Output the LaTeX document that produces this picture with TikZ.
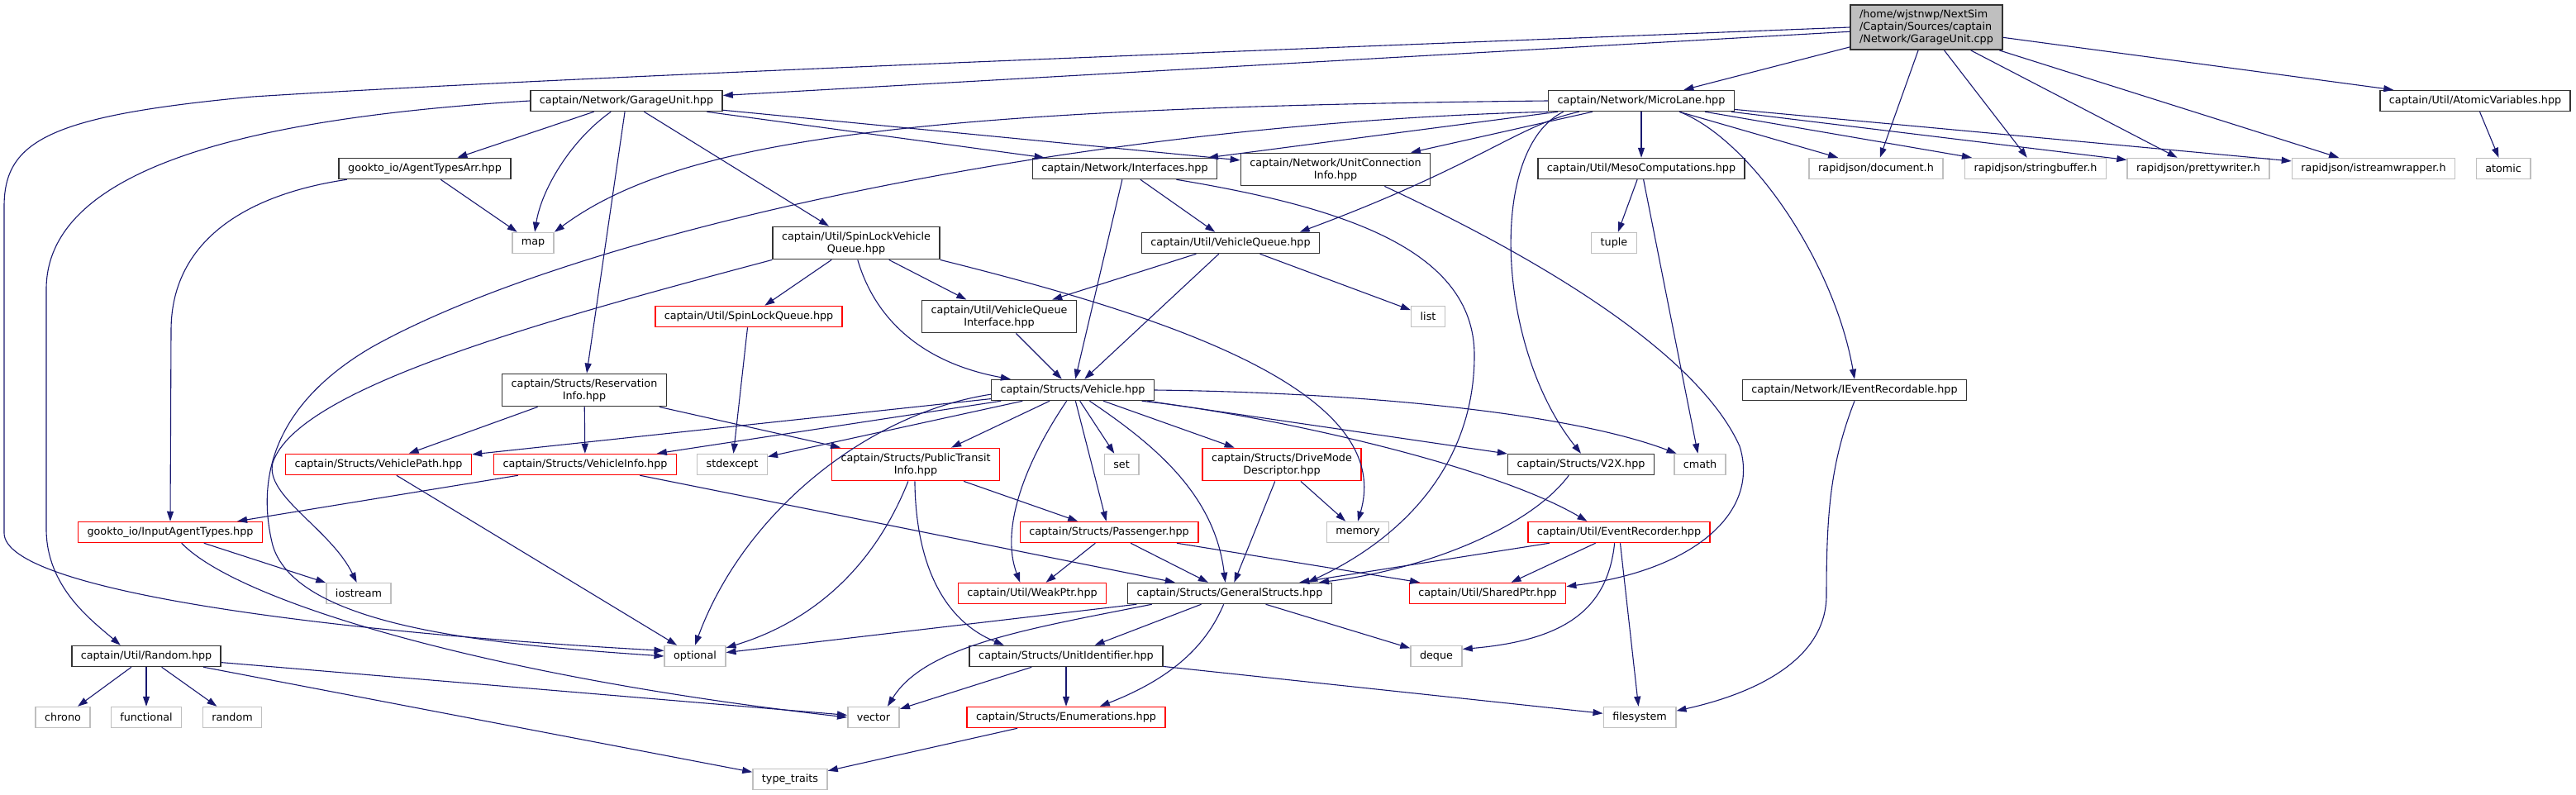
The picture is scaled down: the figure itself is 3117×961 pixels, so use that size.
\documentclass[tikz,border=0pt]{standalone}
\usepackage{fontspec}
\setmainfont{DejaVu Sans}
\usetikzlibrary{arrows.meta}

\definecolor{edgeblue}{HTML}{191970}
\definecolor{greyseventyfive}{HTML}{BFBFBF}

\begin{document}
\begin{tikzpicture}[x=1pt, y=-1pt,
    hdr/.style={draw=black!80, line width=1.5pt, fill=white, inner xsep=11pt, inner ysep=6pt,
      minimum height=25pt, align=center, font=\fontsize{12.75}{15}\selectfont},
    srcfile/.style={hdr, fill=greyseventyfive, align=left},
    redhdr/.style={hdr, draw=red},
    syshdr/.style={hdr, draw=greyseventyfive},
    dep/.style={draw=edgeblue, line width=1.1pt, -{Triangle[length=12pt, width=8pt]}}]
  \useasboundingbox (0,0) rectangle (3117,961);

  \node[srcfile] (src) at (2331,33) {/home/wjstnwp/NextSim\\/Captain/Sources/captain\\/Network/GarageUnit.cpp};

  \node[hdr] (gu) at (758,122) {captain/Network/GarageUnit.hpp};
  \node[hdr] (ml) at (1986,122) {captain/Network/MicroLane.hpp};
  \node[hdr] (av) at (2995,122) {captain/Util/AtomicVariables.hpp};

  \node[hdr] (ata) at (514,204) {gookto\_io/AgentTypesArr.hpp};
  \node[hdr] (intf) at (1361,204) {captain/Network/Interfaces.hpp};
  \node[hdr] (uci) at (1616,205) {captain/Network/UnitConnection\\Info.hpp};
  \node[hdr] (mc) at (1986,204) {captain/Util/MesoComputations.hpp};
  \node[syshdr] (doc) at (2270,204) {rapidjson/document.h};
  \node[syshdr] (sb) at (2463,204) {rapidjson/stringbuffer.h};
  \node[syshdr] (pw) at (2660,204) {rapidjson/prettywriter.h};
  \node[syshdr] (isw) at (2872,204) {rapidjson/istreamwrapper.h};
  \node[syshdr] (atomic) at (3029,204) {atomic};

  \node[syshdr] (map) at (645,294) {map};
  \node[hdr] (slvq) at (1036,294) {captain/Util/SpinLockVehicle\\Queue.hpp};
  \node[hdr] (vq) at (1489,294) {captain/Util/VehicleQueue.hpp};
  \node[syshdr] (tuple) at (1953,294) {tuple};

  \node[redhdr] (slq) at (906,383) {captain/Util/SpinLockQueue.hpp};
  \node[hdr] (vqi) at (1209,383) {captain/Util/VehicleQueue\\Interface.hpp};
  \node[syshdr] (list) at (1728,383) {list};

  \node[hdr] (ri) at (707,472) {captain/Structs/Reservation\\Info.hpp};
  \node[hdr] (veh) at (1298,472) {captain/Structs/Vehicle.hpp};
  \node[hdr] (ier) at (2244,472) {captain/Network/IEventRecordable.hpp};

  \node[redhdr] (vp) at (458,562) {captain/Structs/VehiclePath.hpp};
  \node[redhdr] (vi) at (708,562) {captain/Structs/VehicleInfo.hpp};
  \node[syshdr] (stdexcept) at (886,562) {stdexcept};
  \node[redhdr] (pti) at (1108,562) {captain/Structs/PublicTransit\\Info.hpp};
  \node[syshdr] (set) at (1357,562) {set};
  \node[redhdr] (dmd) at (1551,562) {captain/Structs/DriveMode\\Descriptor.hpp};
  \node[hdr] (v2x) at (1913,562) {captain/Structs/V2X.hpp};
  \node[syshdr] (cmath) at (2057,562) {cmath};

  \node[redhdr] (iat) at (206,644) {gookto\_io/InputAgentTypes.hpp};
  \node[redhdr] (pass) at (1342,644) {captain/Structs/Passenger.hpp};
  \node[syshdr] (memory) at (1643,644) {memory};
  \node[redhdr] (er) at (1959,644) {captain/Util/EventRecorder.hpp};

  \node[syshdr] (iostream) at (434,718) {iostream};
  \node[redhdr] (wp) at (1249,718) {captain/Util/WeakPtr.hpp};
  \node[hdr] (gs) at (1488,718) {captain/Structs/GeneralStructs.hpp};
  \node[redhdr] (sp) at (1800,718) {captain/Util/SharedPtr.hpp};

  \node[hdr] (rand) at (177,794) {captain/Util/Random.hpp};
  \node[syshdr] (optional) at (841,794) {optional};
  \node[hdr] (uid) at (1290,794) {captain/Structs/UnitIdentifier.hpp};
  \node[syshdr] (deque) at (1738,794) {deque};

  \node[syshdr] (chrono) at (76,868) {chrono};
  \node[syshdr] (functional) at (177,868) {functional};
  \node[syshdr] (random) at (281,868) {random};
  \node[syshdr] (vector) at (1057,868) {vector};
  \node[redhdr] (enum) at (1290,868) {captain/Structs/Enumerations.hpp};
  \node[syshdr] (filesystem) at (1984,868) {filesystem};

  \node[syshdr] (typetraits) at (956,943) {type\_traits};

  \draw[dep] (src) -- (gu);
  \draw[dep] (src) -- (ml);
  \draw[dep] (src.west) .. controls (1500,62) and (700,92) .. (306,117) .. controls (60,140) and (5,170) .. (5,250) -- (5,645) .. controls (5,715) and (400,765) .. (optional.170);
  \draw[dep] (src) -- (doc);
  \draw[dep] (src) -- (sb);
  \draw[dep] (src) -- (pw);
  \draw[dep] (src) -- (isw);
  \draw[dep] (src) -- (av);

  \draw[dep] (gu.west) .. controls (350,140) and (56,190) .. (56,350) -- (56,640) .. controls (56,710) and (110,750) .. (rand.157);
  \draw[dep] (gu) -- (ata);
  \draw[dep] (gu) .. controls (690,170) and (655,230) .. (map);
  \draw[dep] (gu) -- (ri);
  \draw[dep] (gu) -- (slvq);
  \draw[dep] (gu) -- (intf);
  \draw[dep] (gu) -- (uci);

  \draw[dep] (ml.west) .. controls (1100,130) and (820,170) .. (map.north east);
  \draw[dep] (ml.south west) .. controls (1300,150) and (700,280) .. (450,420) .. controls (330,490) and (310,580) .. (330,660) .. controls (360,760) and (600,780) .. (optional.west);
  \draw[dep] (ml) -- (intf);
  \draw[dep] (ml) -- (uci);
  \draw[dep] (ml.190) .. controls (1840,150) and (1790,200) .. (vq.9);
  \draw[dep] (ml.188) .. controls (1800,180) and (1810,420) .. (v2x.north);
  \draw[dep] (ml) -- (mc);
  \draw[dep] (ml.-16) .. controls (2120,170) and (2220,320) .. (ier.north);
  \draw[dep] (ml) -- (doc);
  \draw[dep] (ml) -- (sb);
  \draw[dep] (ml) -- (pw);
  \draw[dep] (ml) -- (isw);

  \draw[dep] (av) -- (atomic);
  \draw[dep] (ata) -- (map);
  \draw[dep] (ata.188) .. controls (300,235) and (207,290) .. (207,400) -- (iat.north);

  \draw[dep] (intf) -- (vq);
  \draw[dep] (intf) -- (veh);
  \draw[dep] (intf.-12) .. controls (1620,250) and (1784,300) .. (1784,430) .. controls (1784,560) and (1700,650) .. (gs.8);
  \draw[dep] (uci.-19) .. controls (1900,330) and (2060,440) .. (2105,540) .. controls (2130,620) and (2050,690) .. (sp.5);

  \draw[dep] (slvq) -- (slq);
  \draw[dep] (slvq) -- (vqi);
  \draw[dep] (slvq.-85) .. controls (1060,390) and (1120,440) .. (veh.170);
  \draw[dep] (slvq.south east) .. controls (1400,380) and (1690,470) .. (memory.north);
  \draw[dep] (slvq.south west) .. controls (650,390) and (360,470) .. (330,560) .. controls (320,600) and (400,640) .. (iostream.100);

  \draw[dep] (vq) -- (vqi);
  \draw[dep] (vq) -- (veh);
  \draw[dep] (vq) -- (list);
  \draw[dep] (mc) -- (tuple);
  \draw[dep] (mc) -- (cmath);
  \draw[dep] (ier.south) .. controls (2215,560) and (2210,620) .. (2210,720) .. controls (2210,800) and (2120,840) .. (filesystem.10);
  \draw[dep] (slq) -- (stdexcept);
  \draw[dep] (vqi) -- (veh);

  \draw[dep] (ri) -- (vp);
  \draw[dep] (ri) -- (vi);
  \draw[dep] (ri) -- (pti);

  \draw[dep] (veh) -- (vp);
  \draw[dep] (veh) -- (vi);
  \draw[dep] (veh) -- (stdexcept);
  \draw[dep] (veh.183) .. controls (1050,500) and (900,620) .. (optional.north);
  \draw[dep] (veh) -- (pti);
  \draw[dep] (veh.-119) .. controls (1240,560) and (1210,640) .. (wp.138);
  \draw[dep] (veh) -- (pass);
  \draw[dep] (veh) -- (set);
  \draw[dep] (veh.-33) .. controls (1400,540) and (1470,600) .. (gs.112);
  \draw[dep] (veh) -- (dmd);
  \draw[dep] (veh) -- (v2x);
  \draw[dep] (veh.east) .. controls (1650,475) and (1900,500) .. (cmath.155);
  \draw[dep] (veh.-9) .. controls (1520,500) and (1800,560) .. (er.161);

  \draw[dep] (vp) -- (optional);
  \draw[dep] (vi) -- (iat);
  \draw[dep] (vi) -- (gs);
  \draw[dep] (iat) -- (iostream);
  \draw[dep] (iat.-44) .. controls (290,730) and (600,820) .. (vector.west);

  \draw[dep] (pti.-114) .. controls (1060,680) and (990,750) .. (optional.15);
  \draw[dep] (pti.-93) .. controls (1108,680) and (1140,750) .. (uid.170);
  \draw[dep] (pti) -- (pass);
  \draw[dep] (dmd) -- (memory);
  \draw[dep] (dmd) -- (gs);
  \draw[dep] (pass) -- (wp);
  \draw[dep] (pass) -- (gs);
  \draw[dep] (pass) -- (sp);
  \draw[dep] (v2x.-138) .. controls (1850,640) and (1720,690) .. (gs.7);

  \draw[dep] (er) -- (gs);
  \draw[dep] (er) -- (sp);
  \draw[dep] (er.-112) .. controls (1945,740) and (1890,775) .. (deque.15);
  \draw[dep] (er) -- (filesystem);

  \draw[dep] (gs) -- (optional);
  \draw[dep] (gs.-172) .. controls (1250,760) and (1120,780) .. (vector.38);
  \draw[dep] (gs) -- (uid);
  \draw[dep] (gs.-119) .. controls (1460,780) and (1420,820) .. (enum.18);
  \draw[dep] (gs) -- (deque);

  \draw[dep] (uid) -- (vector);
  \draw[dep] (uid) -- (enum);
  \draw[dep] (uid) -- (filesystem);
  \draw[dep] (enum) -- (typetraits);

  \draw[dep] (rand) -- (chrono);
  \draw[dep] (rand) -- (functional);
  \draw[dep] (rand) -- (random);
  \draw[dep] (rand) -- (vector);
  \draw[dep] (rand) -- (typetraits);
\end{tikzpicture}
\end{document}
